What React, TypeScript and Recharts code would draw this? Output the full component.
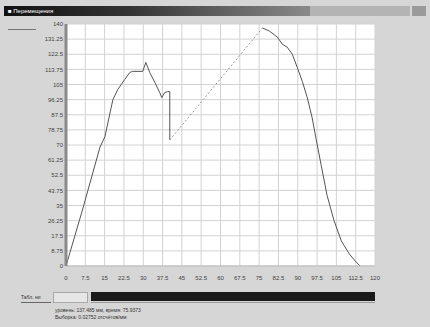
import { LineChart, Line, XAxis, YAxis, CartesianGrid } from 'recharts'

// ось X: 0..120 шаг 7.5, ось Y: 0..140 шаг 8.75
const xTicks = [0, 7.5, 15, 22.5, 30, 37.5, 45, 52.5, 60, 67.5, 75, 82.5, 90, 97.5, 105, 112.5, 120]
const yTicks = [0, 8.75, 17.5, 26.25, 35, 43.75, 52.5, 61.25, 70, 78.75, 87.5, 96.25, 105, 113.75, 122.5, 131.25, 140]

// подъём до провала
const riseX = [0, 6.5, 13.2, 15.1, 18.2, 20.1, 22.8, 24.8, 25.9, 29.8, 31, 32.5, 34.5, 36.4, 37.2, 38.3, 39.5, 40.3, 40.3]
const riseY = [0, 33, 68.8, 74.7, 96.2, 102.1, 107.9, 112, 112.6, 112.6, 117.8, 112, 106.2, 100.3, 97.4, 100.3, 100.9, 100.9, 72.9]

// пунктирная связка до максимума
const linkX = [40.3, 76.3]
const linkY = [72.9, 137.7]

// спад
const fallX = [76.3, 79, 82.1, 84, 85.9, 87.9, 89.8, 91.8, 93.7, 95.6, 97.2, 99.1, 101.4, 104.1, 106.9, 110, 112.3, 114.2]
const fallY = [137.7, 135.9, 132.4, 128.3, 126.6, 122.5, 114.9, 106.7, 97.4, 85.7, 72.9, 58.3, 40.8, 26.2, 14.6, 7, 2.9, 0]

const zip = (xs: number[], ys: number[]) => xs.map((x, i) => ({ x, y: ys[i] }))

const font = '"Liberation Sans", Arial, sans-serif'

export default function App() {
  return (
    <div
      style={{
        position: 'fixed',
        top: 0,
        left: 0,
        width: 430,
        height: 327,
        background: '#d6d6d6',
        fontFamily: font,
        overflow: 'hidden',
      }}
    >
      {/* заголовок окна */}
      <div
        style={{
          position: 'absolute',
          top: 6,
          left: 4,
          width: 306,
          height: 10,
          background: 'linear-gradient(to right, #111 0%, #333 40%, #8a8a8a 100%)',
        }}
      />
      <div style={{ position: 'absolute', top: 6, left: 310, width: 100, height: 10, background: '#b4b4b4' }} />
      <div style={{ position: 'absolute', top: 6, left: 412, width: 14, height: 10, background: '#9a9a9a' }} />
      <div style={{ position: 'absolute', top: 6, left: 8, fontSize: 6, lineHeight: '10px', color: '#fff' }}>
        ■ Перемещения
      </div>
      <div style={{ position: 'absolute', top: 29, left: 8, width: 28, height: 1, background: '#777' }} />

      <div style={{ position: 'absolute', top: 0, left: 0 }}>
        <LineChart width={430} height={300} margin={{ top: 24, right: 55, bottom: 14, left: 0 }}>
          <CartesianGrid stroke="#d2d2d2" fill="#ffffff" />
          <XAxis
            dataKey="x"
            type="number"
            domain={[0, 120]}
            ticks={xTicks}
            interval={0}
            height={20}
            tickSize={0}
            tickMargin={10}
            tickLine={false}
            axisLine={{ stroke: '#bbbbbb' }}
            tick={{ fontSize: 6, fill: '#444', fontFamily: font }}
            allowDuplicatedCategory={false}
          />
          <YAxis
            type="number"
            domain={[0, 140]}
            ticks={yTicks}
            interval={0}
            width={66}
            tickSize={0}
            tickMargin={3}
            tickLine={false}
            axisLine={{ stroke: '#8a8a8a', strokeWidth: 3 }}
            tick={{ fontSize: 6, fill: '#444', fontFamily: font }}
          />
          <Line
            data={zip(riseX, riseY)}
            dataKey="y"
            type="linear"
            stroke="#555"
            strokeWidth={1}
            dot={false}
            isAnimationActive={false}
          />
          <Line
            data={zip(linkX, linkY)}
            dataKey="y"
            type="linear"
            stroke="#9a9a9a"
            strokeWidth={1}
            strokeDasharray="2 2"
            dot={false}
            isAnimationActive={false}
          />
          <Line
            data={zip(fallX, fallY)}
            dataKey="y"
            type="linear"
            stroke="#555"
            strokeWidth={1}
            dot={false}
            isAnimationActive={false}
          />
        </LineChart>
      </div>

      {/* нижняя панель */}
      <div
        style={{
          position: 'absolute',
          top: 292,
          left: 21,
          width: 30,
          height: 10,
          fontSize: 5,
          lineHeight: '10px',
          color: '#333',
          borderBottom: '1px solid #666',
        }}
      >
        Табл. ни
      </div>
      <div
        style={{
          position: 'absolute',
          top: 292,
          left: 53,
          width: 33,
          height: 9,
          background: '#e6e6e6',
          border: '1px solid #aaa',
        }}
      />
      <div style={{ position: 'absolute', top: 292, left: 91, width: 284, height: 9, background: '#1a1a1a' }} />
      <div style={{ position: 'absolute', top: 302, left: 91, width: 284, height: 1, background: '#999' }} />
      <div style={{ position: 'absolute', top: 307, left: 55, fontSize: 5, lineHeight: '7px', color: '#333' }}>
        уровень: 137.485 мм, время: 75.9373
        <br />
        Выборка: 0.02752 отсчётов/мм
      </div>
    </div>
  )
}
